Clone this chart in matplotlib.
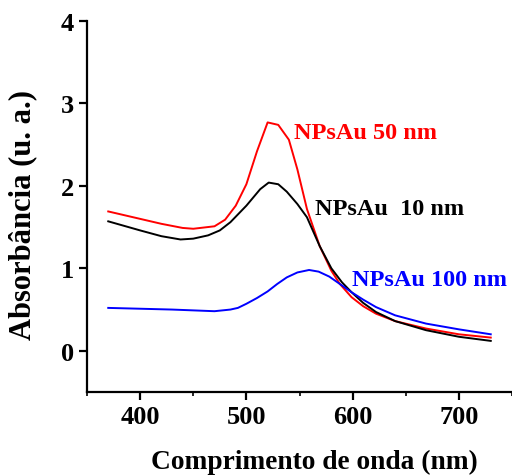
import matplotlib
matplotlib.use("Agg")
import matplotlib.pyplot as plt

wl_50 = [370, 400, 420, 440, 450, 470, 480, 490, 500, 510, 520, 530, 540, 548, 557, 569, 580, 588, 599, 610, 622, 640, 669, 700, 730]
abs_50 = [1.69, 1.60, 1.54, 1.49, 1.48, 1.51, 1.59, 1.76, 2.02, 2.42, 2.77, 2.74, 2.56, 2.20, 1.72, 1.27, 0.97, 0.81, 0.65, 0.54, 0.45, 0.36, 0.27, 0.20, 0.16]

wl_10 = [370, 400, 420, 438, 450, 464, 475, 485, 500, 513, 521, 530, 538, 548, 557, 569, 580, 590, 599, 610, 622, 640, 669, 700, 730]
abs_10 = [1.57, 1.46, 1.39, 1.35, 1.36, 1.40, 1.46, 1.56, 1.76, 1.96, 2.04, 2.02, 1.93, 1.78, 1.62, 1.27, 1.00, 0.83, 0.71, 0.58, 0.47, 0.36, 0.25, 0.17, 0.12]

wl_100 = [370, 400, 430, 470, 485, 492, 500, 510, 520, 529, 538, 548, 559, 568, 578, 588, 599, 610, 622, 640, 669, 700, 730]
abs_100 = [0.52, 0.51, 0.50, 0.48, 0.50, 0.52, 0.57, 0.64, 0.72, 0.81, 0.89, 0.95, 0.98, 0.96, 0.90, 0.81, 0.71, 0.62, 0.53, 0.43, 0.33, 0.26, 0.20]

labels = ["NPsAu 50 nm", "NPsAu  10 nm", "NPsAu 100 nm"]
colors = ["#ff0000", "#000000", "#0000ff"]

plt.rcParams['font.family'] = ['Liberation Serif', 'DejaVu Serif']
plt.rcParams['font.weight'] = 'bold'

fig = plt.figure(figsize=(5.12, 4.77), dpi=100)
ax = fig.add_axes([87/512, 1 - 393/477, (512 - 87)/512, (393 - 22)/477])

ax.plot(wl_50, abs_50, color=colors[0], lw=1.4)
ax.plot(wl_10, abs_10, color=colors[1], lw=1.4)
ax.plot(wl_100, abs_100, color=colors[2], lw=1.4)

ax.text(545, 2.65, labels[0], color=colors[0], fontsize=17.5, fontweight='bold', va='center')
ax.text(564.5, 1.72, labels[1], color=colors[1], fontsize=17.5, fontweight='bold', va='center')
ax.text(599, 0.86, labels[2], color=colors[2], fontsize=17.5, fontweight='bold', va='center')

ax.set_xlim(350, 747)
ax.set_ylim(-0.5, 4)
ax.set_xticks([400, 500, 600, 700])
ax.set_xticks([350, 450, 550, 650, 750], minor=True)
ax.set_yticks([0, 1, 2, 3, 4])
ax.spines['top'].set_visible(False)
ax.spines['right'].set_visible(False)
for s in ['left', 'bottom']:
    ax.spines[s].set_linewidth(1.6)
ax.tick_params(axis='both', which='major', direction='out', length=6, width=1.6, labelsize=19)
ax.tick_params(axis='x', which='minor', direction='out', length=3, width=1.2)
for lab in ax.get_xticklabels() + ax.get_yticklabels():
    lab.set_fontweight('bold')

ax.set_xlabel("Comprimento de onda (nm)", fontsize=19.7, fontweight='bold')
ax.set_ylabel("Absorbância (u. a.)", fontsize=22, fontweight='bold')
ax.xaxis.set_label_coords(0.536, -0.152)
ax.yaxis.set_label_coords(-0.117, 0.48)

fig.savefig("out.png", dpi=100)
